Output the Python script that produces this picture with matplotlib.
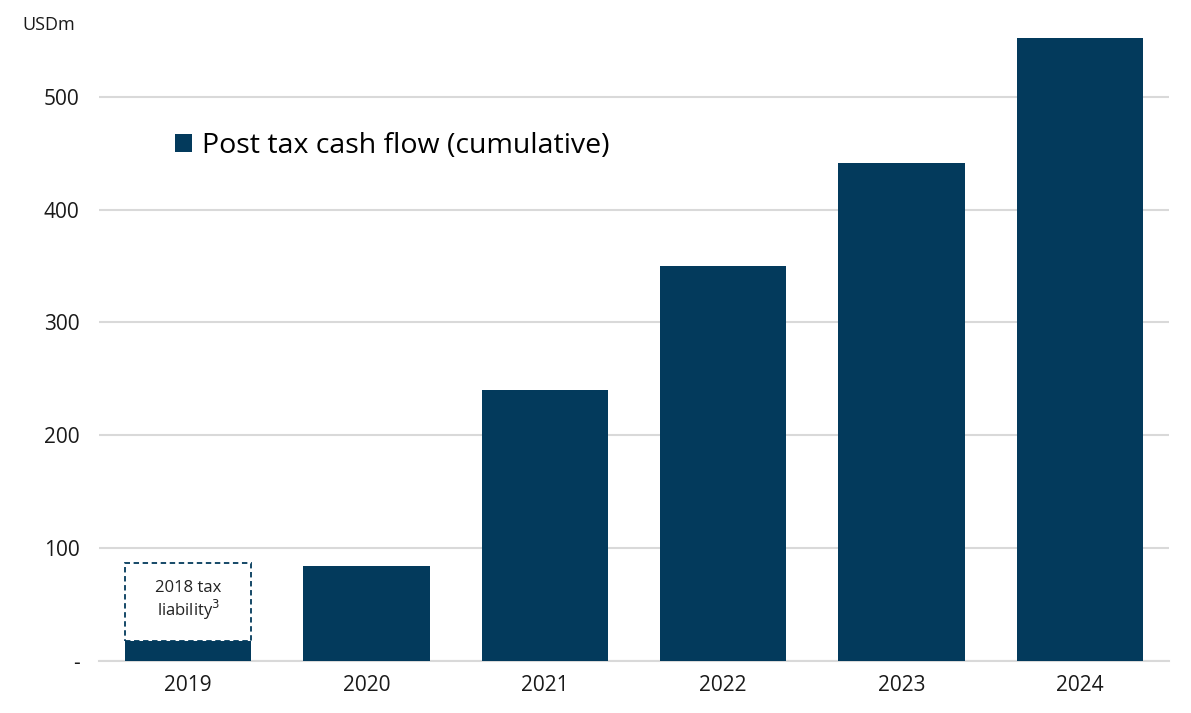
import numpy as np
import matplotlib.pyplot as plt

years = ['2019', '2020', '2021', '2022', '2023', '2024']
cash_flow = [18, 84, 240, 350, 441, 552]
tax_liability_top = 87  # dashed box for 2018 tax liability, 2019 column
yticks = [0, 100, 200, 300, 400, 500]
ytick_labels = ['-', '100', '200', '300', '400', '500']

navy = '#033A5C'
plt.rcParams['font.family'] = ['Open Sans', 'DejaVu Sans']

fig = plt.figure(figsize=(11.91, 7.13), dpi=100)
ax = fig.add_axes([99 / 1191, 52 / 713, 1070 / 1191, 632 / 713])

x = np.arange(len(years))
ax.bar(x, cash_flow, width=0.71, color=navy, zorder=3,
       label='Post tax cash flow (cumulative)')

# dashed box on top of the 2019 bar
ax.bar(x[0], tax_liability_top - cash_flow[0], bottom=cash_flow[0], width=0.71,
       facecolor='white', edgecolor=navy, linestyle=(0, (3, 2)), linewidth=1.3, zorder=4)
ax.text(x[0], (tax_liability_top + cash_flow[0]) / 2 + 1, '2018 tax\nliability$^3$',
        ha='center', va='center', fontsize=12, color='#222222', zorder=5,
        linespacing=1.1)

ax.set_xlim(-0.5, len(years) - 0.5)
ax.set_ylim(0, 560)
ax.set_yticks(yticks)
ax.set_yticklabels(ytick_labels)
ax.set_xticks(x)
ax.set_xticklabels(years)
ax.tick_params(axis='both', length=0, labelsize=15, colors='#1a1a1a')
ax.tick_params(axis='y', pad=14)
ax.tick_params(axis='x', pad=10)
ax.grid(axis='y', color='#d9d9d9', linewidth=1.5, zorder=0)
for s in ['top', 'right', 'left']:
    ax.spines[s].set_visible(False)
ax.spines['bottom'].set_color('#d9d9d9')
ax.spines['bottom'].set_linewidth(1.5)

fig.text(22 / 1191, 1 - 25 / 713, 'USDm', fontsize=13, va='center', ha='left', color='#1a1a1a')

ax.legend(loc='center left', bbox_to_anchor=(0.071, 0.815), frameon=False, fontsize=20.5,
          handlelength=0.6, handleheight=0.6, handletextpad=0.35,
          borderaxespad=0, borderpad=0)

fig.savefig('out.png', dpi=100)
